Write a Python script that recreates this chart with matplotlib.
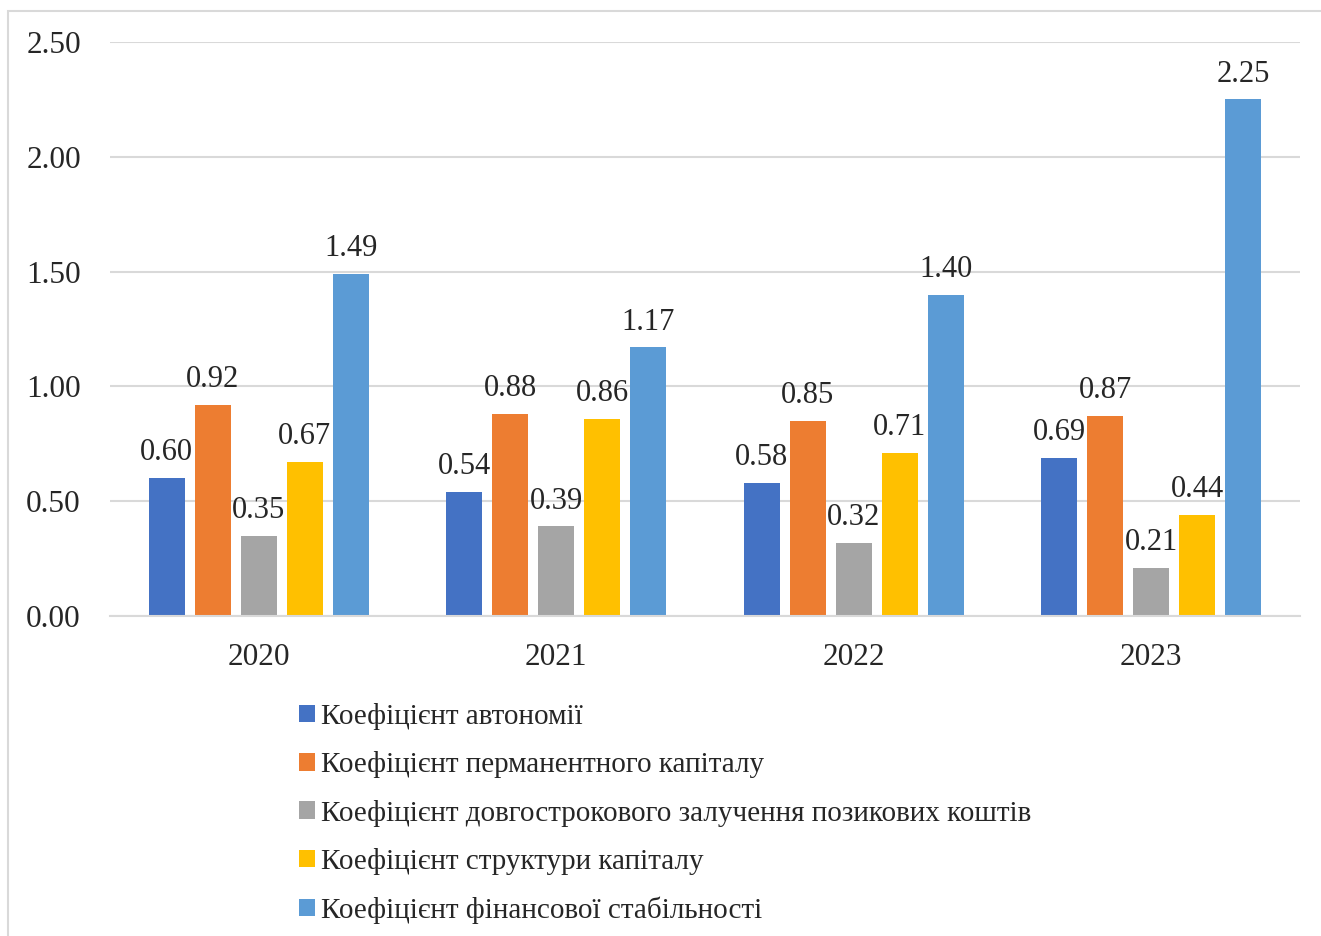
import matplotlib.pyplot as plt
import matplotlib.patches as mpatches
import numpy as np

years = ["2020", "2021", "2022", "2023"]
series_names = [
    "Коефіцієнт автономії",
    "Коефіцієнт перманентного капіталу",
    "Коефіцієнт довгострокового залучення позикових коштів",
    "Коефіцієнт структури капіталу",
    "Коефіцієнт фінансової стабільності",
]
autonomy = [0.60, 0.54, 0.58, 0.69]
permanent = [0.92, 0.88, 0.85, 0.87]
longterm = [0.35, 0.39, 0.32, 0.21]
structure = [0.67, 0.86, 0.71, 0.44]
stability = [1.49, 1.17, 1.40, 2.25]
yticks = [0.0, 0.5, 1.0, 1.5, 2.0, 2.5]

colors = ["#4472C4", "#ED7D31", "#A5A5A5", "#FFC000", "#5B9BD5"]
plt.rcParams['font.family'] = ['Liberation Serif', 'DejaVu Serif']

fig = plt.figure(figsize=(13.21, 9.36), dpi=100)
ax = fig.add_axes([110/1321, 1-616/936, 1190/1321, 574/936])

# border
fig.patches.append(mpatches.Rectangle((8/1321, -0.05), 1.1, 1-11/936+0.05,
                                      transform=fig.transFigure, fill=False,
                                      edgecolor="#d9d9d9", linewidth=1.5, zorder=0))

x = np.arange(len(years))
step = 0.155
width = 0.121
data = [autonomy, permanent, longterm, structure, stability]
handles = []
for i, (vals, c, name) in enumerate(zip(data, colors, series_names)):
    pos = x + (i - 2) * step
    b = ax.bar(pos, vals, width, color=c, label=name, zorder=2)
    handles.append(b)
    for p, v in zip(pos, vals):
        ax.text(p, v + 0.047, f"{v:.2f}", ha="center", va="bottom",
                fontsize=22, color="#262626", zorder=3)

ax.set_xlim(-0.5, 3.5)
ax.set_ylim(0, 2.5)
ax.set_yticks(yticks)
ax.set_yticklabels([f"{t:.2f}" for t in yticks], fontsize=22.5, color="#262626")
ax.set_xticks(x)
ax.set_xticklabels(years, fontsize=22.5, color="#262626")
ax.tick_params(axis="both", length=0)
ax.tick_params(axis="y", pad=21)
ax.tick_params(axis="x", pad=19.5)
ax.grid(axis="y", color="#d9d9d9", linewidth=1.5, zorder=0)
for s in ["top", "right", "left"]:
    ax.spines[s].set_visible(False)
ax.spines["bottom"].set_color("#d9d9d9")
ax.spines["bottom"].set_linewidth(1.5)

leg = fig.legend(handles=handles, labels=series_names, loc="upper left",
                 bbox_to_anchor=(299/1321, 1-703/936), frameon=False,
                 fontsize=21, handlelength=0.55, handleheight=0.55,
                 handletextpad=0.22, labelspacing=0.73, borderaxespad=0,
                 borderpad=0)
for t in leg.get_texts():
    t.set_color("#262626")

fig.savefig("out.png", dpi=100)
